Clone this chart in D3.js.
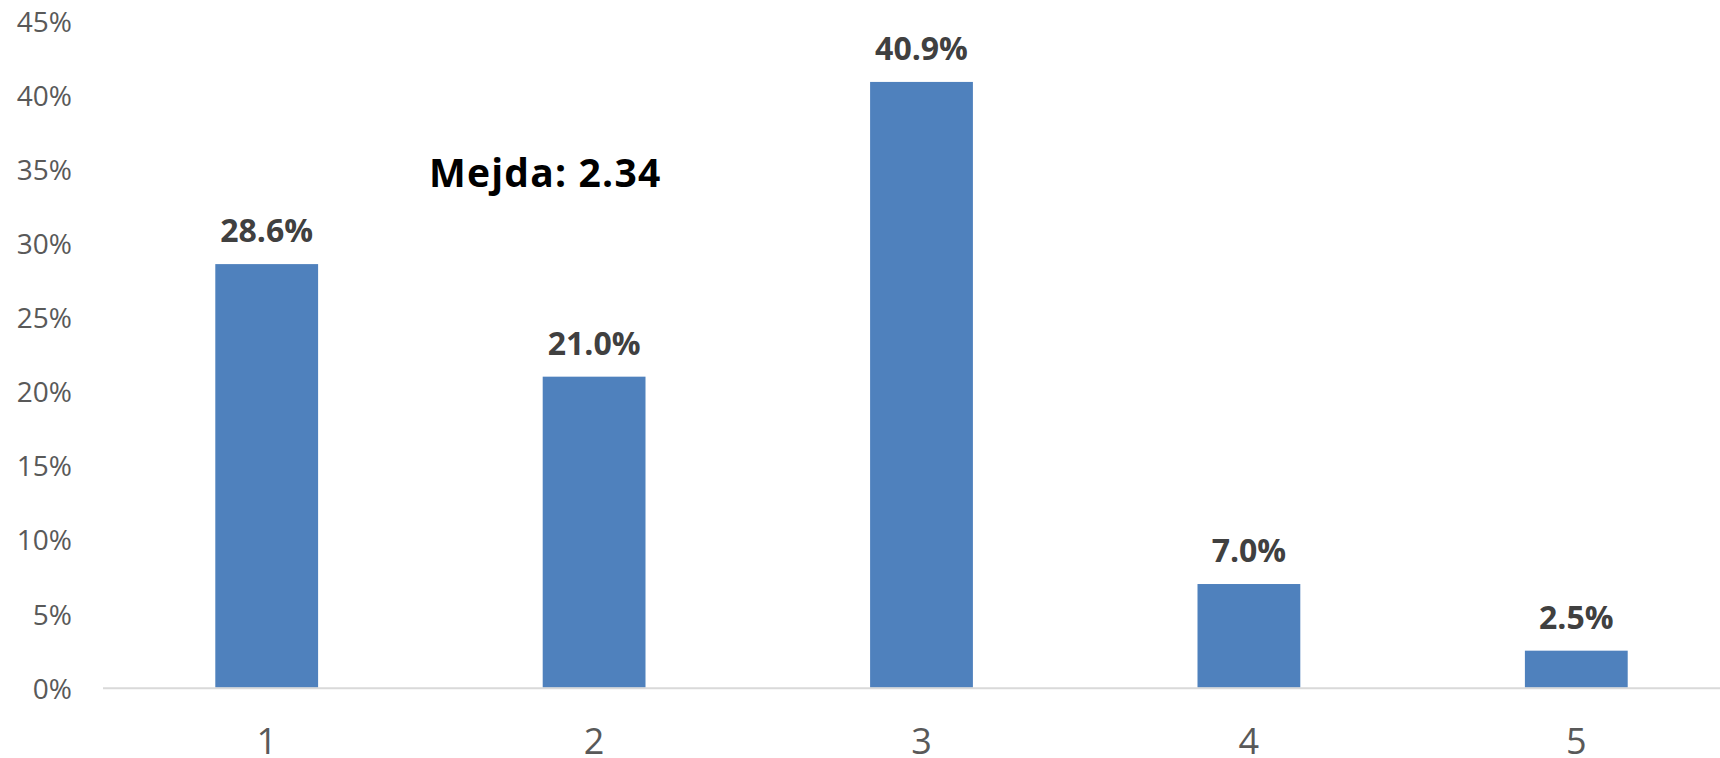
<!DOCTYPE html>
<html>
<head>
<meta charset="utf-8">
<script src="https://cdn.jsdelivr.net/npm/d3@7"></script>
<style>
  html, body { margin: 0; padding: 0; background: #fff; }
  svg { display: block; }
  text { font-family: "Open Sans", "Noto Sans", sans-serif; }
</style>
</head>
<body>
<svg id="chart" width="1720" height="758"></svg>
<script>
const categories = ["1", "2", "3", "4", "5"];
const values = [28.6, 21.0, 40.9, 7.0, 2.5];
const yTicks = [0, 5, 10, 15, 20, 25, 30, 35, 40, 45];
const annotation = "Mejda: 2.34";

const svg = d3.select("#chart");
const baseY = 687.7;

const x = d3.scaleBand()
  .domain(categories)
  .range([103, 1740])
  .paddingInner(0.686)
  .paddingOuter(0.343);

const y = d3.scaleLinear()
  .domain([0, 45])
  .range([baseY, 21.2]);

// y axis labels
const yAxis = d3.axisLeft(y)
  .tickValues(yTicks)
  .tickFormat(d => d + "%")
  .tickSize(0)
  .tickPadding(0);
const gy = svg.append("g").attr("transform", "translate(72,0)").call(yAxis);
gy.select(".domain").remove();
gy.selectAll("text")
  .attr("font-family", "'Open Sans', sans-serif")
  .attr("font-size", 28)
  .attr("fill", "#595959")
  .attr("dy", "0.37em");

// bars
svg.append("g").selectAll("rect")
  .data(values)
  .join("rect")
  .attr("x", (d, i) => x(categories[i]))
  .attr("width", x.bandwidth())
  .attr("y", d => y(d))
  .attr("height", d => baseY - y(d))
  .attr("fill", "#4F81BD");

// x axis line
svg.append("line")
  .attr("x1", 103).attr("x2", 1720)
  .attr("y1", baseY + 0.5).attr("y2", baseY + 0.5)
  .attr("stroke", "#D9D9D9")
  .attr("stroke-width", 2);

// x axis labels
const xAxis = d3.axisBottom(x).tickSize(0).tickPadding(0);
const gx = svg.append("g").attr("transform", `translate(0,${baseY})`).call(xAxis);
gx.select(".domain").remove();
gx.selectAll("text")
  .attr("font-family", "'Open Sans', sans-serif")
  .attr("font-size", 36)
  .attr("fill", "#595959")
  .attr("y", 66)
  .attr("dy", 0);

// data labels
svg.append("g").selectAll("text")
  .data(values)
  .join("text")
  .attr("x", (d, i) => x(categories[i]) + x.bandwidth() / 2)
  .attr("y", d => y(d) - 22)
  .attr("text-anchor", "middle")
  .attr("font-size", 32)
  .attr("font-weight", "bold")
  .attr("fill", "#404040")
  .text(d => d.toFixed(1) + "%");

// annotation
svg.append("text")
  .attr("x", 429)
  .attr("y", 187)
  .attr("font-size", 39)
  .attr("font-weight", "bold")
  .attr("letter-spacing", 1.2)
  .attr("fill", "#000")
  .text(annotation);
</script>
</body>
</html>
